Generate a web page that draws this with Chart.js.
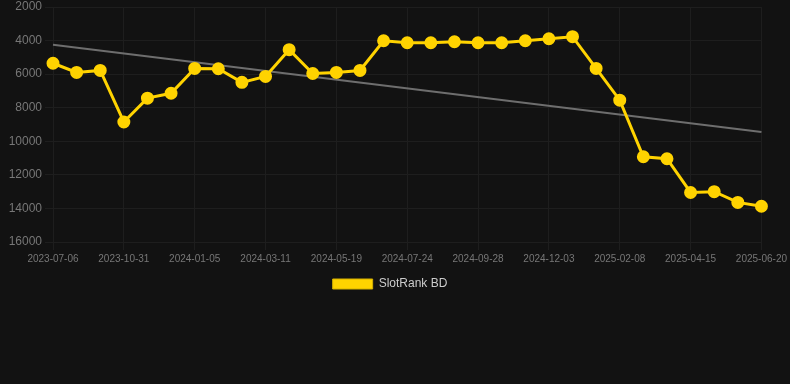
<!DOCTYPE html>
<html>
<head>
<meta charset="utf-8">
<script src="https://cdn.jsdelivr.net/npm/chart.js@4"></script>
<style>
  html, body { margin: 0; padding: 0; background: #121212; }
  #wrap { position: relative; width: 790px; height: 300px; }
</style>
</head>
<body>
<div id="wrap"><canvas id="rankChart"></canvas></div>
<script>
// Fechas (una de cada tres aparece en el eje)
const labels = [
  '2023-07-06', '2023-08-14', '2023-09-22', '2023-10-31', '2023-11-22', '2023-12-14',
  '2024-01-05', '2024-01-27', '2024-02-18', '2024-03-11', '2024-04-03', '2024-04-26',
  '2024-05-19', '2024-06-10', '2024-07-02', '2024-07-24', '2024-08-15', '2024-09-06',
  '2024-09-28', '2024-10-20', '2024-11-11', '2024-12-03', '2024-12-25', '2025-01-17',
  '2025-02-08', '2025-03-02', '2025-03-24', '2025-04-15', '2025-05-07', '2025-05-29',
  '2025-06-20'
];

const rankValues = [
  5350, 5900, 5780, 8850, 7430, 7140, 5660, 5680, 6490, 6135, 4540,
  5960, 5900, 5780, 4010, 4130, 4130, 4070, 4130, 4130, 4010, 3890,
  3770, 5660, 7550, 10920, 11040, 13050, 13000, 13640, 13870
];

// Tendencia: solo inicio y final, unidos con spanGaps
const trendValues = labels.map(() => null);
trendValues[0] = 4245;
trendValues[labels.length - 1] = 9440;

const yTicks = { min: 2000, max: 16000, step: 2000 };

const font = 'Liberation Sans, Arial, sans-serif';

const ctx = document.getElementById('rankChart').getContext('2d');
new Chart(ctx, {
  type: 'line',
  data: {
    labels: labels,
    datasets: [{
      label: 'SlotRank BD',
      data: rankValues,
      borderColor: '#FFD300',
      backgroundColor: '#FFD300',
      borderWidth: 3,
      pointRadius: 5,
      pointHoverRadius: 5,
      tension: 0
    }, {
      label: 'trend',
      data: trendValues,
      borderColor: '#6e6e6e',
      borderWidth: 2,
      pointRadius: 0,
      spanGaps: true,
      fill: false
    }]
  },
  options: {
    responsive: true,
    maintainAspectRatio: false,
    animation: false,
    layout: { autoPadding: false, padding: { left: 0, right: 10 } },
    plugins: {
      legend: {
        position: 'bottom',
        labels: {
          color: '#cccccc',
          font: { family: font, size: 12 },
          boxWidth: 40,
          boxHeight: 10,
          filter: (item) => item.text !== 'trend',
          generateLabels: (chart) => {
            const items = Chart.defaults.plugins.legend.labels.generateLabels(chart);
            items.forEach((it) => { it.lineWidth = 1; it.strokeStyle = '#d4b000'; });
            return items;
          }
        }
      },
      tooltip: { enabled: false }
    },
    scales: {
      x: {
        offset: false,
        grid: { color: '#1e1e1e', tickLength: 8 },
        border: { color: '#1e1e1e' },
        ticks: {
          color: '#777777',
          font: { family: font, size: 10 },
          maxRotation: 0,
          autoSkip: false,
          callback: function (val, i) {
            return i % 3 === 0 ? this.getLabelForValue(val) : null;
          }
        }
      },
      y: {
        reverse: true,
        min: yTicks.min,
        max: yTicks.max,
        afterFit: (scale) => {
          scale.width = 53;
          scale.paddingTop = 7;
        },
        grid: { color: '#1e1e1e', tickLength: 8 },
        border: { color: '#1e1e1e' },
        ticks: {
          stepSize: yTicks.step,
          color: '#777777',
          font: { family: font, size: 12 },
          callback: (v) => String(v)
        }
      }
    }
  }
});
</script>
</body>
</html>
